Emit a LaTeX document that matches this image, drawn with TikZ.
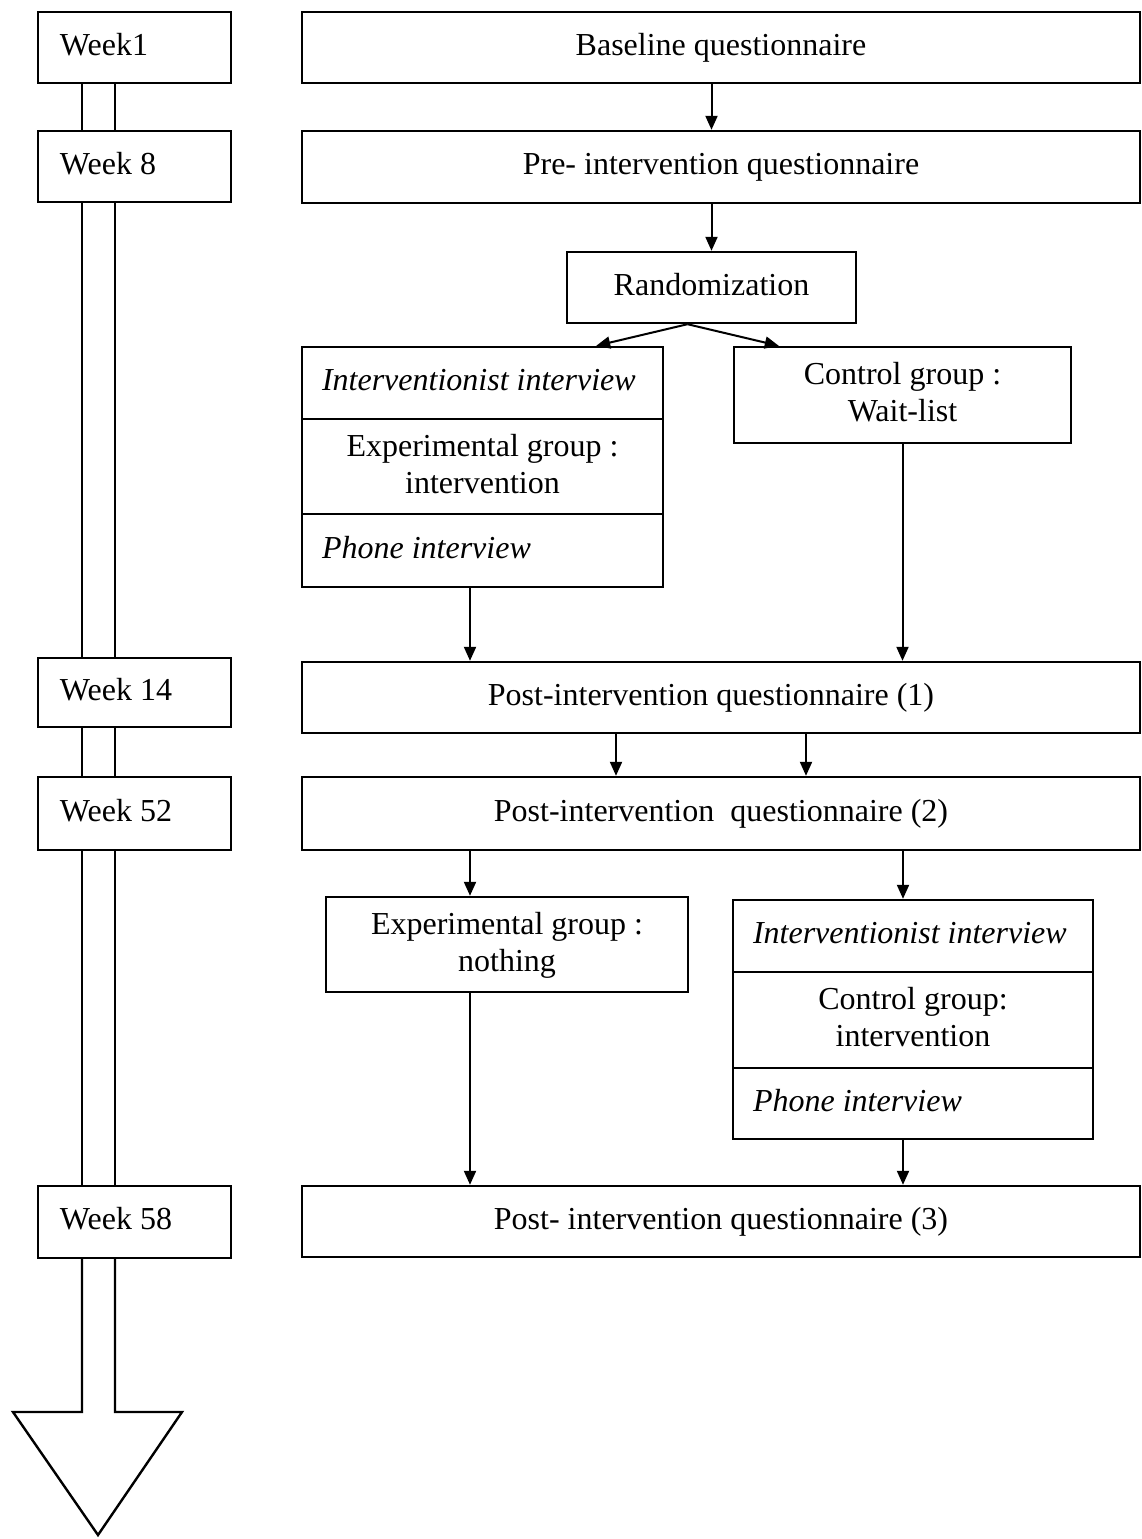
\documentclass[tikz,border=0pt]{standalone}
\usepackage{fontspec}
\setmainfont{Liberation Serif}
\usetikzlibrary{arrows.meta}
\begin{document}
\begin{tikzpicture}[x=0.5pt,y=-0.5pt,
  box/.style 2 args={draw, line width=1.2pt, inner sep=0pt,
    minimum width=#1*0.5pt, minimum height=#2*0.5pt, align=center,
    font=\fontsize{16}{18.5}\selectfont, text height=11.5pt, text depth=4pt},
  twoline/.style={text height=30pt, text depth=3.5pt},
  week/.style={box={193}{#1}, text width=74.5pt, inner xsep=11pt, align=flush left},
  sect/.style 2 args={box={#1}{#2}, text width=(#1-40)*0.5pt, inner xsep=10pt,
    align=flush left, font=\fontsize{16}{18.5}\selectfont\itshape},
  arr/.style={line width=1pt, -{Triangle[length=7pt,width=6pt]}},
  tline/.style={line width=1.2pt, line join=miter}]
\useasboundingbox (0,0) rectangle (1142,1539);

% time axis labels
\node[week=71] (w1)  at (134.5,47.5)  {Week1};
\node[week=71] (w8)  at (134.5,166.5) {Week 8};
\node[week=69] (w14) at (134.5,692.5) {Week 14};
\node[week=73] (w52) at (134.5,813.5) {Week 52};
\node[week=72] (w58) at (134.5,1222)  {Week 58};

% questionnaires
\node[box={838}{71}] (base)  at (721,47.5)   {Baseline questionnaire};
\node[box={838}{72}] (pre)   at (721,167)    {Pre- intervention questionnaire};
\node[box={289}{71}] (rand)  at (711.5,287.5) {Randomization};
\node[box={838}{71}] (post1) at (721,697.5)  {Post-intervention questionnaire (1)\kern10pt};
\node[box={838}{73}] (post2) at (721,813.5)  {Post-intervention\ \ questionnaire (2)};
\node[box={838}{71}] (post3) at (721,1221.5) {Post- intervention questionnaire (3)};

% experimental arm, first phase
\node[sect={361}{72}] (li)    at (482.5,383)   {Interventionist interview};
\node[box={361}{95}, twoline] (lexp) at (482.5,466.5) {Experimental group :\\intervention};
\node[sect={361}{73}] (lph)   at (482.5,550.5) {Phone interview};

% control arm, first phase
\node[box={337}{96}, twoline] (ctrl) at (902.5,395) {Control group :\\Wait-list};

% second phase
\node[box={362}{95}, twoline] (none) at (507,944.5) {Experimental group :\\nothing};
\node[sect={360}{72}] (ri)    at (913,936)    {Interventionist interview};
\node[box={360}{96}, twoline] (rctrl) at (913,1020) {Control group:\\intervention};
\node[sect={360}{71}] (rph)   at (913,1103.5) {Phone interview};

% columns used by the vertical connectors
\coordinate (xa) at (470,0);
\coordinate (xb) at (903,0);
\coordinate (xc) at (616,0);
\coordinate (xd) at (806,0);
\coordinate (tl) at (82,0);
\coordinate (tr) at (115,0);
\coordinate (hb) at (0,1412);

% connectors
\draw[arr] (base.south -| rand) -- (pre.north -| rand);
\draw[arr] (pre.south -| rand) -- (rand.north);
\draw[arr] ([xshift=-12pt]rand.south) -- ([xshift=-34pt]li.north east);
\draw[arr] ([xshift=-12pt]rand.south) -- ([xshift=23pt]ctrl.north west);
\draw[arr] (lph.south -| xa) -- (post1.north -| xa);
\draw[arr] (ctrl.south) -- (post1.north -| ctrl);
\draw[arr] (post1.south -| xc) -- (post2.north -| xc);
\draw[arr] (post1.south -| xd) -- (post2.north -| xd);
\draw[arr] (post2.south -| xa) -- (none.north -| xa);
\draw[arr] (post2.south -| xb) -- (ri.north -| xb);
\draw[arr] (none.south -| xa) -- (post3.north -| xa);
\draw[arr] (rph.south -| xb) -- (post3.north -| xb);

% time axis: double shaft between the week labels, ending in an open arrow head
\foreach \a/\b in {w1/w8, w8/w14, w14/w52, w52/w58} {
  \draw[tline] (\a.south -| tl) -- (\b.north -| tl);
  \draw[tline] (\a.south -| tr) -- (\b.north -| tr);
}
\draw[tline] (w58.south -| tl) -- (tl |- hb) -- (13,1412) -- (98,1535)
  -- (182,1412) -- (tr |- hb) -- (w58.south -| tr);
\end{tikzpicture}
\end{document}
